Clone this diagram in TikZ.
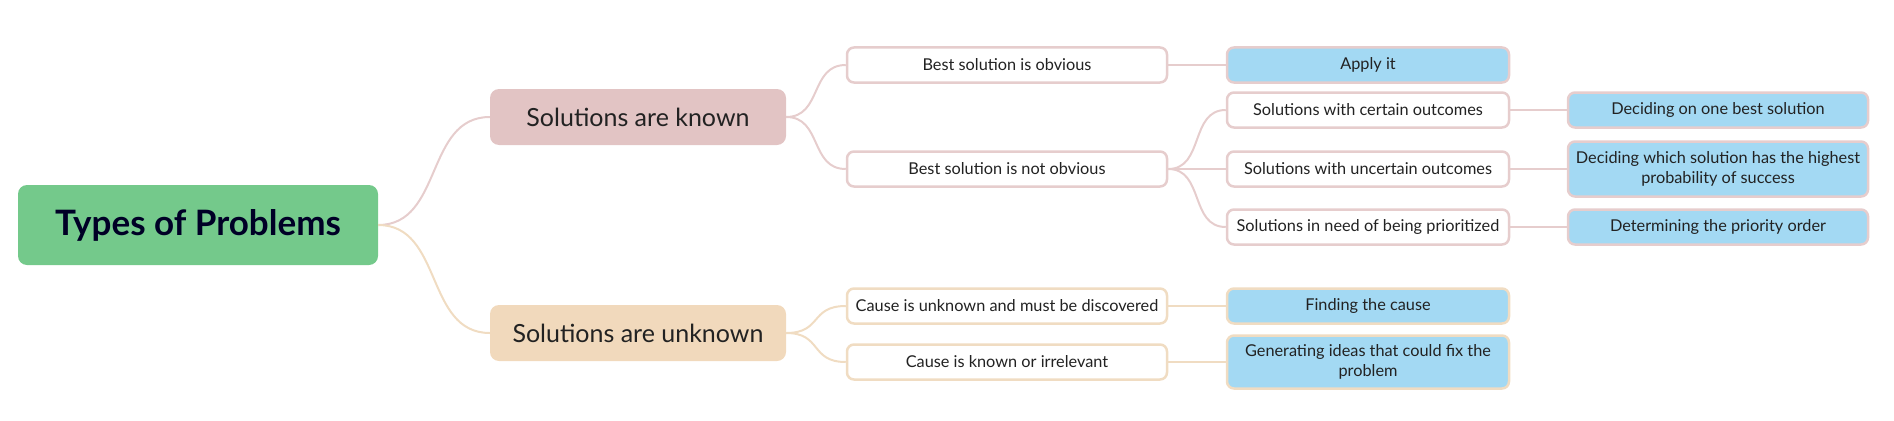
\documentclass[tikz,border=0pt]{standalone}
\usepackage{fontspec}
\setmainfont{Lato}
\definecolor{rootfill}{HTML}{74C98B}
\definecolor{knownfill}{HTML}{E2C4C4}
\definecolor{unknownfill}{HTML}{F1D9BC}
\definecolor{knownline}{HTML}{E6CDCD}
\definecolor{unknownline}{HTML}{F0DCC2}
\definecolor{bluefill}{HTML}{A3D9F3}
\definecolor{txt}{HTML}{222222}
\tikzset{
  base/.style={rounded corners=7pt, align=center, text=txt, inner sep=0pt},
  rootbox/.style={base, fill=rootfill, minimum width=360pt, minimum height=80pt, rounded corners=9pt, font=\fontsize{35}{40}\selectfont\bfseries, text=black!85!blue},
  catbox/.style={base, minimum width=296pt, minimum height=56pt, rounded corners=9pt, font=\fontsize{25}{29}\selectfont},
  kcat/.style={catbox, fill=knownfill},
  ucat/.style={catbox, fill=unknownfill},
  midbox/.style={base, fill=white, line width=2.5pt, minimum width=320pt, minimum height=35pt, font=\fontsize{16.3}{20}\selectfont},
  leafbox/.style={base, line width=2.5pt, minimum width=282pt, minimum height=35pt, font=\fontsize{16.3}{20}\selectfont},
  endbox/.style={base, fill=bluefill, line width=2.5pt, minimum width=300pt, minimum height=35pt, font=\fontsize{16.3}{20}\selectfont},
  klink/.style={draw=knownline, line width=2pt},
  ulink/.style={draw=unknownline, line width=2pt},
}
\begin{document}
\begin{tikzpicture}[x=1pt,y=-1pt]
\useasboundingbox (0,0) rectangle (1894,420);
% nodes
\node[rootbox] (root) at (198,225) {Types of Problems};
\node[kcat] (known) at (638,117) {Solutions are known};
\node[ucat] (unknown) at (638,333) {Solutions are unknown};
\node[midbox, draw=knownline] (obv) at (1007,65) {Best solution is obvious};
\node[midbox, draw=knownline] (notobv) at (1007,169) {Best solution is not obvious};
\node[midbox, draw=unknownline] (cunk) at (1007,306) {Cause is unknown and must be discovered};
\node[midbox, draw=unknownline] (ckn) at (1007,362) {Cause is known or irrelevant};
\node[leafbox, fill=bluefill, draw=knownline] (apply) at (1368,65) {Apply it};
\node[leafbox, fill=white, draw=knownline] (cert) at (1368,110) {Solutions with certain outcomes};
\node[leafbox, fill=white, draw=knownline] (uncert) at (1368,169) {Solutions with uncertain outcomes};
\node[leafbox, fill=white, draw=knownline] (prior) at (1368,227) {Solutions in need of being prioritized};
\node[leafbox, fill=bluefill, draw=unknownline] (find) at (1368,306) {Finding the cause};
\node[leafbox, fill=bluefill, draw=unknownline, minimum height=53pt] (gen) at (1368,362) {Generating ideas that could fix the\\problem};
\node[endbox, draw=knownline] (one) at (1718,110) {Deciding on one best solution};
\node[endbox, draw=knownline, minimum height=55pt] (which) at (1718,169) {Deciding which solution has the highest\\probability of success};
\node[endbox, draw=knownline] (order) at (1718,227) {Determining the priority order};
% connectors
\draw[klink] (root.east) .. controls +(65,0) and +(-65,0) .. (known.west);
\draw[ulink] (root.east) .. controls +(65,0) and +(-65,0) .. (unknown.west);
\draw[klink] (known.east) .. controls +(36,0) and +(-36,0) .. (obv.west);
\draw[klink] (known.east) .. controls +(36,0) and +(-36,0) .. (notobv.west);
\draw[ulink] (unknown.east) .. controls +(36,0) and +(-36,0) .. (cunk.west);
\draw[ulink] (unknown.east) .. controls +(36,0) and +(-36,0) .. (ckn.west);
\draw[klink] (obv.east) -- (apply.west);
\draw[klink] (notobv.east) .. controls +(36,0) and +(-36,0) .. (cert.west);
\draw[klink] (notobv.east) -- (uncert.west);
\draw[klink] (notobv.east) .. controls +(36,0) and +(-36,0) .. (prior.west);
\draw[klink] (cert.east) -- (one.west);
\draw[klink] (uncert.east) -- (which.west);
\draw[klink] (prior.east) -- (order.west);
\draw[ulink] (cunk.east) -- (find.west);
\draw[ulink] (ckn.east) -- (gen.west);
\end{tikzpicture}
\end{document}
